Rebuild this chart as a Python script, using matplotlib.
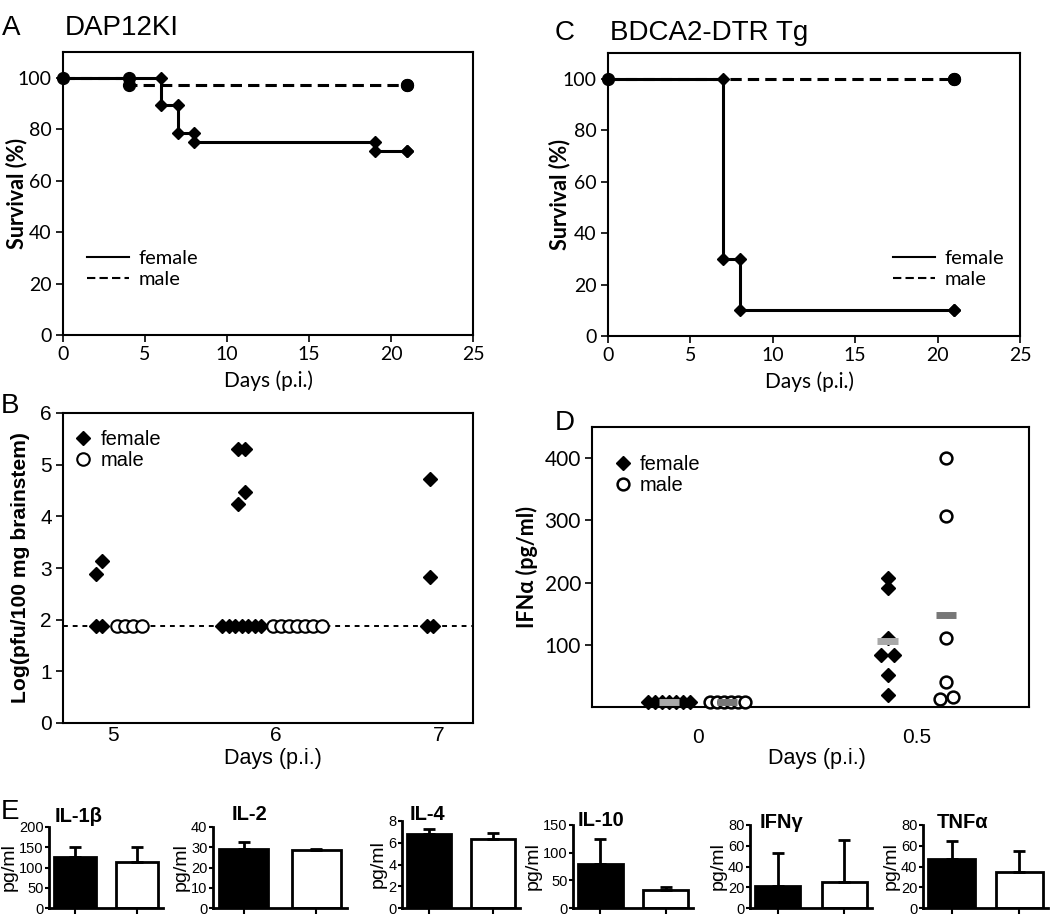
import numpy as np
import matplotlib
matplotlib.use("Agg")
import matplotlib.pyplot as plt
from matplotlib.lines import Line2D

# =========================================================
# data
# =========================================================

# A: DAP12KI survival (%)
a_female_days = [0, 6, 7, 8, 19, 21]
a_female_surv = [100, 89.3, 78.6, 75.0, 71.4, 71.4]
a_male_days = [0, 4, 21]
a_male_surv = [100, 97, 97]

# C: BDCA2-DTR Tg survival (%)
c_female_days = [0, 7, 8, 21]
c_female_surv = [100, 30, 10, 10]
c_male_days = [0, 21]
c_male_surv = [100, 100]

# B: log(pfu/100 mg brainstem)
b_days = [5, 6, 7]
b_female = [
    [2.88, 3.13, 1.88, 1.88],
    [5.31, 5.31, 4.48, 4.23, 1.88, 1.88, 1.88, 1.88, 1.88, 1.88, 1.88],
    [4.73, 2.82, 1.88, 1.88],
]
b_male = [
    [1.88, 1.88, 1.88, 1.88],
    [1.88, 1.88, 1.88, 1.88, 1.88, 1.88, 1.88],
    [],
]
detection_limit = 1.88

# D: IFNa (pg/ml)
d_days = [0, 0.5]
d_day_labels = ["0", "0.5"]
d_female = [
    [8, 8, 8, 8, 8, 8, 8],
    [207, 191, 111, 83, 83, 51, 19],
]
d_male = [
    [8, 8, 8, 8, 8, 8],
    [400, 307, 111, 40, 16, 13],
]

# E: cytokines (pg/ml), mean and upper error
cytokines = ["IL-1β", "IL-2", "IL-4", "IL-10", "IFNγ", "TNFα"]
e_female_mean = [125, 29, 6.85, 80, 21, 47]
e_female_err = [25, 3.5, 0.45, 45, 32, 18]
e_male_mean = [113, 28.5, 6.35, 32, 25, 35]
e_male_err = [37, 0.5, 0.55, 6, 41, 20]
e_ymax = [200, 40, 8, 150, 80, 80]
e_ystep = [50, 10, 2, 50, 20, 20]

# =========================================================
# layout helpers
# =========================================================

CAL = ["Lato", "Liberation Sans"]
ARI = ["Liberation Sans", "DejaVu Sans"]

W, H = 1050, 915
fig = plt.figure(figsize=(W / 100, H / 100), dpi=100)


def px_axes(left, top, right, bottom):
    return fig.add_axes([left / W, 1 - bottom / H,
                         (right - left) / W, (bottom - top) / H])


def fig_text(x, y, s, **kw):
    fig.text(x / W, 1 - y / H, s, va="center", **kw)


def step_corners(days, surv):
    xs, ys = [], []
    for i in range(1, len(days)):
        xs += [days[i], days[i]]
        ys += [surv[i - 1], surv[i]]
    return xs, ys


def spread(center, values, step, tol):
    """equal / close values are placed side by side"""
    vals = np.asarray(values, float)
    xs = np.full(len(vals), float(center))
    clusters = []
    for i in np.argsort(vals, kind="stable"):
        if clusters and abs(vals[i] - vals[clusters[-1][-1]]) <= tol:
            clusters[-1].append(i)
        else:
            clusters.append([i])
    for cl in clusters:
        n = len(cl)
        xs[cl] = center + (np.arange(n) - (n - 1) / 2) * step
    return xs


# =========================================================
# A / C survival curves
# =========================================================

def survival_panel(ax, f_days, f_surv, m_days, m_surv, leg_anchor):
    dash = (0, (3.7, 2.0))
    ax.step(m_days, m_surv, where="post", color="k", lw=2.2, ls=dash, zorder=2)
    mx, my = step_corners(m_days, m_surv)
    ax.plot([m_days[0]] + mx, [m_surv[0]] + my, "o", color="k",
            ms=8.5, ls="none", zorder=4, clip_on=False)
    ax.step(f_days, f_surv, where="post", color="k", lw=2.2, zorder=3)
    fx, fy = step_corners(f_days, f_surv)
    ax.plot(fx, fy, "D", color="k", ms=6, ls="none", zorder=4)

    ax.set_xlim(0, 25)
    ax.set_ylim(0, 110)
    ax.set_xticks(range(0, 26, 5))
    ax.set_yticks(range(0, 101, 20))
    for sp in ax.spines.values():
        sp.set_linewidth(1.5)
    ax.tick_params(direction="out", length=5, width=1.2, labelsize=14,
                   labelfontfamily="Lato", pad=3)
    ax.set_xlabel("Days (p.i.)", fontsize=15, family=CAL)
    ax.set_ylabel("Survival (%)", fontsize=15.5, family=CAL, fontweight="bold")
    ax.xaxis.set_label_coords(0.5, -0.125)

    handles = [
        Line2D([], [], color="k", lw=1.5),
        Line2D([], [], color="k", lw=1.5, ls=(0, (4, 2))),
    ]
    ax.legend(handles, ["female", "male"], loc="upper left",
              bbox_to_anchor=leg_anchor, frameon=False,
              prop={"family": CAL, "size": 14.5}, handlelength=2.1,
              handletextpad=0.45, labelspacing=0.2, borderpad=0,
              borderaxespad=0)


ax_a = px_axes(63, 52, 473, 335)
survival_panel(ax_a, a_female_days, a_female_surv, a_male_days, a_male_surv,
               (0.058, 0.30))
ax_a.yaxis.set_label_coords(-0.088, 0.5)

ax_c = px_axes(608, 53, 1020, 336)
survival_panel(ax_c, c_female_days, c_female_surv, c_male_days, c_male_surv,
               (0.692, 0.305))
ax_c.yaxis.set_label_coords(-0.092, 0.5)
ax_c.xaxis.set_label_coords(0.489, -0.125)

# =========================================================
# B viral load
# =========================================================

b_female_shift = [-0.086, -0.21, -0.055]
b_male_shift = [0.10, 0.13, 0.0]

ax_b = px_axes(63, 413, 473, 723)
ax_b.axhline(detection_limit, color="k", lw=1.4, ls=(0, (2.5, 2.5)), zorder=1)
for i, day in enumerate(b_days):
    xs = spread(day + b_female_shift[i], b_female[i], 0.04, 0.3)
    ax_b.plot(xs, b_female[i], "D", color="k", ms=7, ls="none", zorder=3)
    if b_male[i]:
        xs = spread(day + b_male_shift[i], b_male[i], 0.05, 0.3)
        ax_b.plot(xs, b_male[i], "o", mfc="white", mec="k", mew=1.5,
                  ms=9, ls="none", zorder=3)

ax_b.set_xlim(4.693, 7.21)
ax_b.set_ylim(0, 6)
ax_b.set_xticks(b_days)
ax_b.set_yticks(range(0, 7))
for sp in ax_b.spines.values():
    sp.set_linewidth(1.5)
ax_b.tick_params(axis="y", direction="out", length=5, width=1.2,
                 labelsize=15, labelfontfamily="Liberation Sans", pad=3)
ax_b.tick_params(axis="x", length=0, labelsize=15,
                 labelfontfamily="Liberation Sans", pad=2)
ax_b.set_xlabel("Days (p.i.)", fontsize=15.5, family=ARI)
ax_b.xaxis.set_label_coords(0.512, -0.08)
ax_b.set_ylabel("Log(pfu/100 mg brainstem)", fontsize=15.2, family=ARI,
                fontweight="bold")
ax_b.yaxis.set_label_coords(-0.08, 0.5)

b_handles = [
    Line2D([], [], marker="D", color="k", ms=7, ls="none"),
    Line2D([], [], marker="o", mfc="white", mec="k", mew=1.5, ms=9, ls="none"),
]
ax_b.legend(b_handles, ["female", "male"], loc="upper left",
            bbox_to_anchor=(0.025, 0.945), frameon=False,
            prop={"family": ARI, "size": 14.5}, handlelength=1.0,
            handletextpad=0.35, labelspacing=0.1, borderpad=0, borderaxespad=0)

# =========================================================
# D IFNa
# =========================================================

d_shift = 0.067
d_step = [0.016, 0.03]
bar_half = 0.023

ax_d = px_axes(592, 427, 1029, 707)
for i, day in enumerate(d_days):
    fx = spread(day - d_shift, d_female[i], d_step[i], 5)
    ax_d.plot(fx, d_female[i], "D", color="k", ms=7, ls="none", zorder=3,
              clip_on=False)
    mx = spread(day + d_shift, d_male[i], d_step[i], 5)
    ax_d.plot(mx, d_male[i], "o", mfc="white", mec="k", mew=1.8, ms=8.5,
              ls="none", zorder=3, clip_on=False)
    ax_d.hlines(np.mean(d_female[i]), day - d_shift - bar_half,
                day - d_shift + bar_half, colors="#a8a8a8", lw=5, zorder=5)
    ax_d.hlines(np.mean(d_male[i]), day + d_shift - bar_half,
                day + d_shift + bar_half, colors="#777777", lw=5, zorder=5)

ax_d.set_xlim(-0.242, 0.756)
ax_d.set_ylim(0, 450)
ax_d.set_xticks(d_days)
ax_d.set_xticklabels(d_day_labels)
ax_d.set_yticks([100, 200, 300, 400])
for sp in ax_d.spines.values():
    sp.set_linewidth(1.5)
ax_d.tick_params(axis="y", direction="out", length=5, width=1.2,
                 labelsize=15, labelfontfamily="Lato", pad=3)
ax_d.tick_params(axis="x", length=0, labelsize=15,
                 labelfontfamily="Liberation Sans", pad=15)
ax_d.set_xlabel("Days (p.i.)", fontsize=15.5, family=ARI)
ax_d.xaxis.set_label_coords(0.515, -0.146)
ax_d.set_ylabel("IFNα (pg/ml)", fontsize=15.5, family=CAL, fontweight="bold")
ax_d.yaxis.set_label_coords(-0.124, 0.5)

d_handles = [
    Line2D([], [], marker="D", color="k", ms=7, ls="none"),
    Line2D([], [], marker="o", mfc="white", mec="k", mew=1.8, ms=8.5,
           ls="none"),
]
ax_d.legend(d_handles, ["female", "male"], loc="upper left",
            bbox_to_anchor=(0.048, 0.9), frameon=False,
            prop={"family": ARI, "size": 14.5}, handlelength=1.0,
            handletextpad=0.35, labelspacing=0.1, borderpad=0, borderaxespad=0)

# =========================================================
# E cytokine bars
# =========================================================

e_left = [49, 213, 402, 573, 750, 923]
e_right = [163, 347, 520, 693, 872, 1048]
e_top = [827, 827, 821, 825, 825, 825]
e_bottom = 908
e_title_pos = [(55, 816), (232, 815), (410, 815), (578, 821), (760, 822),
               (937, 822)]

for i, name in enumerate(cytokines):
    ax = px_axes(e_left[i], e_top[i], e_right[i], e_bottom)
    ax.bar([0, 1], [e_female_mean[i], e_male_mean[i]], width=0.68,
           color=["black", "white"], edgecolor="black", linewidth=2,
           zorder=2)
    for x, m, e in [(0, e_female_mean[i], e_female_err[i]),
                    (1, e_male_mean[i], e_male_err[i])]:
        ax.errorbar([x], [m], yerr=[[0], [e]], fmt="none", ecolor="k",
                    elinewidth=2, capsize=4.5, capthick=2, zorder=3)
    ax.set_xlim(-0.42, 1.42)
    ax.set_ylim(0, e_ymax[i])
    ax.set_yticks(np.arange(0, e_ymax[i] + 0.1, e_ystep[i]))
    ax.set_xticks([0, 1])
    ax.set_xticklabels([])
    ax.spines["top"].set_visible(False)
    ax.spines["right"].set_visible(False)
    ax.spines["left"].set_linewidth(2)
    ax.spines["bottom"].set_linewidth(2)
    ax.tick_params(axis="y", direction="out", length=3, width=1.5,
                   labelsize=10.5, labelfontfamily="Liberation Sans", pad=1)
    ax.tick_params(axis="x", direction="out", length=4, width=1.5)
    ax.set_ylabel("pg/ml", fontsize=14, family=ARI, labelpad=1)
    tx, ty = e_title_pos[i]
    fig_text(tx, ty, name, fontsize=14.5, family=ARI, fontweight="bold")

# =========================================================
# panel letters and titles
# =========================================================

fig_text(2, 28, "A", fontsize=20, family=ARI)
fig_text(65, 28, "DAP12KI", fontsize=20, family=ARI)
fig_text(555, 33, "C", fontsize=20, family=ARI)
fig_text(610, 33, "BDCA2-DTR Tg", fontsize=20, family=ARI)
fig_text(1, 406, "B", fontsize=20, family=ARI)
fig_text(555, 423, "D", fontsize=20, family=ARI)
fig_text(1, 812, "E", fontsize=20, family=ARI)

fig.savefig("out.png", dpi=100)
